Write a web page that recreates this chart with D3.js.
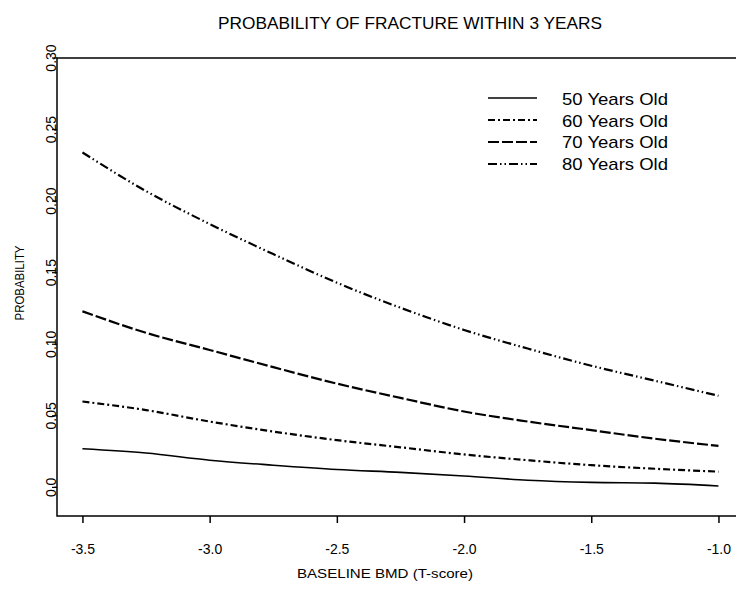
<!DOCTYPE html>
<html>
<head>
<meta charset="utf-8">
<script src="https://cdn.jsdelivr.net/npm/d3@7"></script>
<style>
  body { margin: 0; background: #fff; }
  text { font-family: Arial, "Liberation Sans", sans-serif; fill: #000; }
</style>
</head>
<body>
<script>
// data
var tscore = [-3.5, -3.25, -3.0, -2.75, -2.5, -2.25, -2.0, -1.75, -1.5, -1.25, -1.0];
var age50 = [0.027, 0.024, 0.019, 0.0155, 0.0125, 0.0105, 0.008, 0.005, 0.0035, 0.003, 0.001];
var age60 = [0.060, 0.054, 0.046, 0.039, 0.033, 0.028, 0.023, 0.019, 0.0155, 0.013, 0.011];
var age70 = [0.123, 0.108, 0.096, 0.084, 0.0725, 0.0625, 0.053, 0.046, 0.040, 0.034, 0.029];
var age80 = [0.234, 0.207, 0.184, 0.163, 0.143, 0.1255, 0.110, 0.097, 0.085, 0.0745, 0.064];
var seriesNames = ["50 Years Old", "60 Years Old", "70 Years Old", "80 Years Old"];
var xTicks = [-3.5, -3.0, -2.5, -2.0, -1.5, -1.0];
var xTickLabels = ["-3.5", "-3.0", "-2.5", "-2.0", "-1.5", "-1.0"];
var yTicks = [0.0, 0.05, 0.10, 0.15, 0.20, 0.25, 0.30];
var yTickLabels = ["0.0", "0.05", "0.10", "0.15", "0.20", "0.25", "0.30"];

var width = 736, height = 592;
var dashes = [null, "7,3,2,3", "11,3", "9,3,1.5,3,1.5,3"];

var svg = d3.select("body").append("svg")
	.attr("width", width)
	.attr("height", height);

var x = d3.scaleLinear().domain([-3.6, -0.9]).range([57, 743.9]);
var y = d3.scaleLinear().domain([-0.02, 0.30]).range([516, 58]);

// frame (right side runs off the picture)
svg.append("path")
	.attr("d", "M" + x.range()[1] + "," + y(0.30) + "H" + x(-3.6) + "V" + y(-0.02) + "H" + x.range()[1])
	.attr("fill", "none")
	.attr("stroke", "#000")
	.attr("stroke-width", 1.5);

// x axis
var bottomAxis = d3.axisBottom(x).tickValues(xTicks).tickSize(7).tickFormat((d, i) => xTickLabels[i]);
var gx = svg.append("g")
	.attr("transform", "translate(0," + y(-0.02) + ")")
	.call(bottomAxis);
gx.select(".domain").remove();
gx.selectAll("line").attr("stroke-width", 1.5);
gx.selectAll("text")
	.attr("y", 38)
	.attr("dy", null)
	.attr("font-size", "14px");

// y axis, labels turned along the axis
var leftAxis = d3.axisLeft(y).tickValues(yTicks).tickSize(5).tickFormat((d, i) => yTickLabels[i]);
var gy = svg.append("g")
	.attr("transform", "translate(" + x(-3.6) + ",0)")
	.call(leftAxis);
gy.select(".domain").remove();
gy.selectAll("line").attr("stroke-width", 1.2);
gy.selectAll("text")
	.attr("x", null)
	.attr("dy", null)
	.attr("text-anchor", "middle")
	.attr("font-size", "14px")
	.attr("transform", (d) => "translate(-1," + y(d) + ") rotate(-90)")
	.attr("y", 0);
gy.selectAll(".tick").attr("transform", null);
gy.selectAll(".tick line").attr("transform", (d) => "translate(0," + y(d) + ")");

// curves
var series = [age50, age60, age70, age80];
var line = d3.line()
	.x((d, i) => x(tscore[i]))
	.y((d) => y(d))
	.curve(d3.curveMonotoneX);

svg.selectAll(".curve").data(series)
	.enter()
	.append("path")
	.attr("class", "curve")
	.attr("d", line)
	.attr("fill", "none")
	.attr("stroke", "#000")
	.attr("stroke-width", (d, i) => i == 0 ? 1.6 : 2.2)
	.attr("stroke-dasharray", (d, i) => dashes[i]);

// legend
var lg = svg.append("g").attr("transform", "translate(488,105)");
seriesNames.forEach((name, i) => {
	lg.append("line")
		.attr("x1", 0).attr("x2", 49)
		.attr("y1", i * 22 - 7).attr("y2", i * 22 - 7)
		.attr("stroke", "#000")
		.attr("stroke-width", i == 0 ? 1.6 : 2.2)
		.attr("stroke-dasharray", dashes[i]);
	lg.append("text")
		.attr("x", 74)
		.attr("y", i * 21.5)
		.attr("font-size", "17px")
		.attr("textLength", 106)
		.attr("lengthAdjust", "spacingAndGlyphs")
		.text(name);
});

// titles
svg.append("text")
	.attr("x", 410)
	.attr("y", 29)
	.attr("text-anchor", "middle")
	.attr("font-size", "17px")
	.attr("textLength", 384)
	.attr("lengthAdjust", "spacingAndGlyphs")
	.text("PROBABILITY OF FRACTURE WITHIN 3 YEARS");

svg.append("text")
	.attr("x", 385)
	.attr("y", 578)
	.attr("text-anchor", "middle")
	.attr("font-size", "13px")
	.attr("textLength", 176)
	.attr("lengthAdjust", "spacingAndGlyphs")
	.text("BASELINE BMD (T-score)");

svg.append("text")
	.attr("transform", "translate(24,283) rotate(-90)")
	.attr("text-anchor", "middle")
	.attr("font-size", "13px")
	.attr("textLength", 75)
	.attr("lengthAdjust", "spacingAndGlyphs")
	.text("PROBABILITY");
</script>
</body>
</html>
